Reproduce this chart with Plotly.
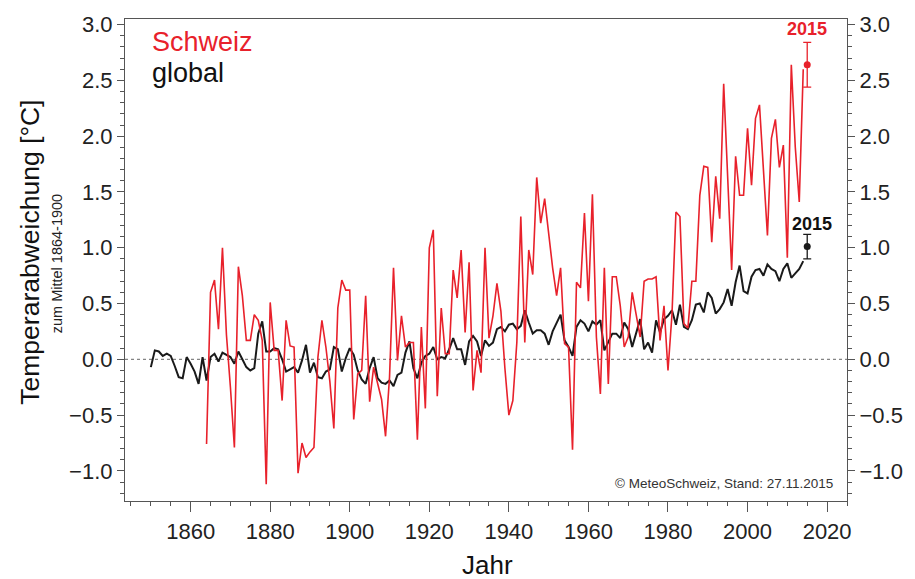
import plotly.graph_objects as go

years_global = list(range(1850, 2015))
global_vals = [
    -0.07, 0.08, 0.07, 0.03, 0.05, 0.03, -0.06, -0.16, -0.17, 0.02,
    -0.04, -0.11, -0.22, 0.02, -0.19, 0.02, 0.05, -0.02, 0.06, 0.04,
    0.02, -0.04, 0.07, 0.00, -0.07, -0.10, -0.08, 0.23, 0.34, 0.07,
    0.07, 0.10, 0.09, 0.00, -0.11, -0.09, -0.07, -0.12, -0.01, 0.13,
    -0.12, -0.03, -0.16, -0.17, -0.11, -0.09, 0.11, 0.09, -0.11, 0.01,
    0.10, 0.04, -0.10, -0.18, -0.22, -0.08, 0.02, -0.17, -0.21, -0.22,
    -0.19, -0.24, -0.14, -0.12, 0.06, 0.16, -0.08, -0.17, -0.03, 0.03,
    0.05, 0.11, 0.00, 0.02, 0.01, 0.09, 0.19, 0.09, 0.09, -0.05,
    0.16, 0.21, 0.16, 0.03, 0.17, 0.12, 0.15, 0.27, 0.29, 0.25,
    0.31, 0.32, 0.27, 0.30, 0.44, 0.33, 0.23, 0.26, 0.26, 0.23,
    0.13, 0.25, 0.33, 0.40, 0.17, 0.11, 0.03, 0.29, 0.35, 0.32,
    0.25, 0.34, 0.31, 0.35, 0.08, 0.16, 0.23, 0.23, 0.19, 0.33,
    0.27, 0.11, 0.24, 0.36, 0.09, 0.15, 0.06, 0.35, 0.24, 0.36,
    0.39, 0.44, 0.31, 0.49, 0.29, 0.27, 0.35, 0.49, 0.50, 0.42,
    0.60, 0.55, 0.41, 0.45, 0.51, 0.63, 0.48, 0.69, 0.84, 0.61,
    0.59, 0.74, 0.80, 0.81, 0.75, 0.85, 0.81, 0.79, 0.70, 0.81,
    0.86, 0.73, 0.77, 0.81, 0.88,
]

years_swiss = list(range(1864, 2015))
swiss_vals = [
    -0.76, 0.60, 0.71, 0.27, 1.00, 0.22, -0.25, -0.79, 0.83, 0.57,
    0.17, 0.17, 0.40, 0.35, 0.17, -1.12, 0.51, 0.08, 0.08, -0.37,
    0.35, 0.12, 0.11, -1.02, -0.75, -0.88, -0.83, -0.79, 0.02, 0.35,
    0.11, -0.20, -0.62, 0.46, 0.71, 0.62, 0.62, -0.54, -0.13, -0.10,
    0.57, -0.38, -0.07, -0.22, -0.36, -0.69, -0.16, 0.82, -0.01, 0.39,
    0.11, 0.15, 0.15, -0.72, 0.29, -0.44, 1.00, 1.16, -0.33, 0.46,
    0.05, 0.05, 0.80, 0.55, 0.98, 0.24, 0.87, -0.28, 0.08, -0.12,
    1.00, 0.19, 0.39, 0.68, 0.43, -0.08, -0.50, -0.37, 0.15, 1.28,
    0.15, 0.98, 0.76, 1.63, 1.22, 1.44, 1.11, 0.82, 0.57, 0.82,
    0.14, 0.11, -0.81, 0.69, 0.64, 1.31, 0.52, 1.48, 0.20, -0.31,
    0.82, -0.22, 0.74, 0.74, 0.48, 0.11, 0.20, 0.60, 0.40, 0.20,
    0.70, 0.72, 0.72, 0.74, 0.17, 0.48, -0.10, 0.40, 1.32, 1.28,
    0.32, 0.28, 0.70, 0.70, 1.47, 1.73, 1.72, 1.05, 1.64, 1.26,
    2.47, 1.60, 0.80, 1.82, 1.47, 1.47, 2.07, 1.56, 2.16, 2.28,
    1.70, 1.11, 1.98, 2.15, 1.72, 1.92, 0.91, 2.64, 1.90, 1.41,
    2.60,
]

year_2015 = [2015]
swiss_2015 = [2.64]
swiss_2015_err = [0.20]
global_2015 = [1.01]
global_2015_err = [0.11]

tick_years = [1860, 1880, 1900, 1920, 1940, 1960, 1980, 2000, 2020]
tick_temps = [-1.0, -0.5, 0.0, 0.5, 1.0, 1.5, 2.0, 2.5, 3.0]

RED = "#e8212b"
BLACK = "#1a1a1a"
AXC = "#555555"
FONT = "Liberation Sans, Arial, sans-serif"

fig = go.Figure()
fig.add_trace(go.Scatter(x=years_global, y=global_vals, mode="lines",
                         line=dict(color=BLACK, width=2), showlegend=False))
fig.add_trace(go.Scatter(x=years_swiss, y=swiss_vals, mode="lines",
                         line=dict(color=RED, width=1.6), showlegend=False))
fig.add_trace(go.Scatter(x=year_2015, y=swiss_2015, mode="markers",
                         marker=dict(color=RED, size=7),
                         error_y=dict(type="data", array=swiss_2015_err, color=RED,
                                      thickness=1.3, width=4),
                         showlegend=False))
fig.add_trace(go.Scatter(x=year_2015, y=global_2015, mode="markers",
                         marker=dict(color=BLACK, size=7),
                         error_y=dict(type="data", array=global_2015_err, color=BLACK,
                                      thickness=1.3, width=4),
                         showlegend=False))
fig.add_trace(go.Scatter(x=[2000], y=[0], yaxis="y2", mode="markers",
                         marker=dict(opacity=0), showlegend=False, hoverinfo="skip"))

fig.add_shape(type="line", xref="paper", x0=0, x1=1, yref="y", y0=0, y1=0,
              line=dict(color="#666666", width=1, dash="3px,3px"), layer="below")

axis_common = dict(showgrid=False, zeroline=False, showline=True, linecolor=AXC,
                   linewidth=1.2, ticks="outside", tickcolor=AXC,
                   tickfont=dict(family=FONT, size=22, color="#222222"))

fig.update_layout(
    width=915, height=579,
    margin=dict(l=125, r=63, t=15, b=78),
    plot_bgcolor="white", paper_bgcolor="white",
    font=dict(family=FONT, color="#222222"),
    xaxis=dict(range=[1843.5, 2025], tickvals=tick_years,
               ticklen=10, mirror=True,
               minor=dict(dtick=5, tick0=1850, ticklen=4, ticks="outside", tickcolor=AXC),
               **axis_common),
    yaxis=dict(range=[-1.27, 3.05], tickvals=tick_temps,
               tickformat=".1f", ticklen=7, mirror=True,
               minor=dict(dtick=0.1, tick0=0, ticklen=4, ticks="outside", tickcolor=AXC),
               **axis_common),
    yaxis2=dict(range=[-1.27, 3.05], tickvals=tick_temps,
                tickformat=".1f", ticklen=7, overlaying="y", side="right",
                minor=dict(dtick=0.1, tick0=0, ticklen=4, ticks="outside", tickcolor=AXC),
                **axis_common),
)

annotations = [
    dict(text="Schweiz", x=0.034, y=0.953, xref="paper", yref="paper", xanchor="left",
         yanchor="middle", showarrow=False, font=dict(size=27, color=RED, family=FONT)),
    dict(text="global", x=0.034, y=0.887, xref="paper", yref="paper", xanchor="left",
         yanchor="middle", showarrow=False, font=dict(size=27, color="#111111", family=FONT)),
    dict(text="<b>2015</b>", x=2015, y=2.96, xref="x", yref="y", showarrow=False,
         font=dict(size=18, color=RED, family=FONT)),
    dict(text="<b>2015</b>", x=2015, y=1.21, xref="x", yref="y", showarrow=False, xshift=5,
         font=dict(size=18, color="#111111", family=FONT)),
    dict(text="© MeteoSchweiz, Stand: 27.11.2015", x=0.984, y=0.037, xref="paper", yref="paper",
         xanchor="right", yanchor="middle", showarrow=False,
         font=dict(size=13.5, color="#333333", family=FONT)),
    dict(text="Temperarabweichung [°C]", x=-0.131, y=0.516, xref="paper", yref="paper",
         textangle=-90, showarrow=False, xanchor="center", yanchor="middle",
         font=dict(size=26.5, color="#111111", family=FONT)),
    dict(text="zum Mittel 1864-1900", x=-0.095, y=0.492, xref="paper", yref="paper",
         textangle=-90, showarrow=False, xanchor="center", yanchor="middle",
         font=dict(size=14.5, color="#222222", family=FONT)),
    dict(text="Jahr", x=0.502, y=-0.132, xref="paper", yref="paper", showarrow=False,
         xanchor="center", yanchor="middle", font=dict(size=26, color="#111111", family=FONT)),
]
fig.update_layout(annotations=annotations)

fig.write_html("out.html", config={"displayModeBar": False})

with open("out.html", "r", encoding="utf-8") as f:
    html = f.read()
html = html.replace("<head>", "<head><style>html,body{margin:0;padding:0;overflow:hidden;}</style>", 1)
with open("out.html", "w", encoding="utf-8") as f:
    f.write(html)
